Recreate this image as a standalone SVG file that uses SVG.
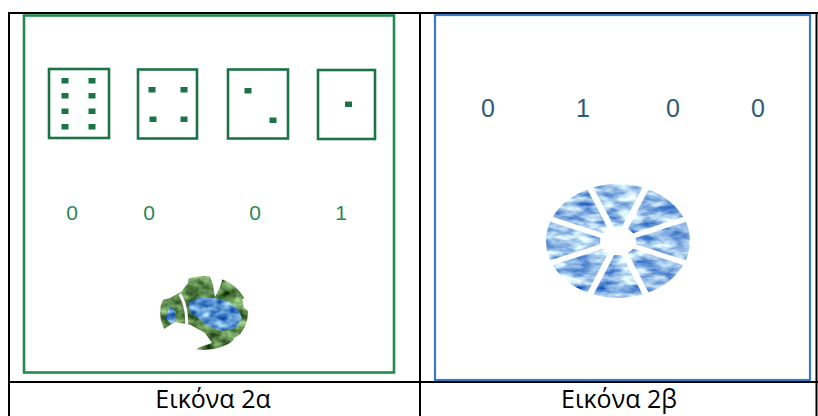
<svg xmlns="http://www.w3.org/2000/svg" width="818" height="416" viewBox="0 0 818 416">
  <style>
    .rule { stroke: #000; stroke-width: 2; fill: none; }
    .frame-a { fill: none; stroke: #238b4e; stroke-width: 2.6; }
    .frame-b { fill: #fff; stroke: #3b78c6; stroke-width: 2.2; }
    .die { fill: #fff; stroke: #1b7346; stroke-width: 2.6; }
    .pip { fill: #1b7346; }
    .digit-a { font-family: "Liberation Sans", Arial, sans-serif; font-size: 21px; fill: #2a8854; text-anchor: middle; }
    .digit-b { font-family: "Liberation Sans", Arial, sans-serif; font-size: 25px; fill: #2c5c74; text-anchor: middle; }
    .caption { font-family: "Open Sans", "Noto Sans", sans-serif; font-size: 25px; fill: #000; text-anchor: middle; }
  </style>
  <defs>
    <!-- marbled blue texture, clipped to the painted shape -->
    <filter id="texBlue" x="0" y="0" width="1" height="1" color-interpolation-filters="sRGB">
      <feTurbulence type="fractalNoise" baseFrequency="0.045 0.09" numOctaves="3" seed="7" result="n"/>
      <feColorMatrix in="n" type="matrix" values="1.5 0 0 0 -0.15  1.2 0 0 0 0.15  0.5 0 0 0 0.66  0 0 0 0 1" result="c"/>
      <feComposite in="c" in2="SourceGraphic" operator="in"/>
    </filter>
    <!-- mottled green texture for land -->
    <filter id="texGreen" x="0" y="0" width="1" height="1" color-interpolation-filters="sRGB">
      <feTurbulence type="fractalNoise" baseFrequency="0.07 0.1" numOctaves="3" seed="3" result="n"/>
      <feColorMatrix in="n" type="matrix" values="1.0 0 0 0 -0.12  1.1 0 0 0 0.0  0.9 0 0 0 -0.14  0 0 0 0 1" result="c"/>
      <feComposite in="c" in2="SourceGraphic" operator="in"/>
    </filter>
    <!-- water patches of the left globe -->
    <filter id="texWater" x="0" y="0" width="1" height="1" color-interpolation-filters="sRGB">
      <feTurbulence type="fractalNoise" baseFrequency="0.09 0.14" numOctaves="2" seed="11" result="n"/>
      <feColorMatrix in="n" type="matrix" values="1.3 0 0 0 -0.3  1.2 0 0 0 -0.02  0.7 0 0 0 0.47  0 0 0 0 1" result="c"/>
      <feComposite in="c" in2="SourceGraphic" operator="in"/>
    </filter>
  </defs>

  <rect width="818" height="416" fill="#fff"/>

  <!-- table rules -->
  <g id="table">
    <line class="rule" x1="8" y1="13" x2="818" y2="13"/>
    <line class="rule" x1="9" y1="12" x2="9" y2="416"/>
    <line class="rule" x1="420" y1="12" x2="420" y2="416"/>
    <line class="rule" x1="816.5" y1="12" x2="816.5" y2="416"/>
    <line class="rule" x1="8" y1="382" x2="818" y2="382"/>
  </g>

  <!-- left panel: dice, digits, torn globe -->
  <g id="panel-a">
    <rect class="frame-a" x="24" y="15.5" width="370" height="357"/>

    <g id="die-8">
      <rect class="die" x="49" y="69" width="60" height="69"/>
      <rect class="pip" x="61.5" y="78" width="7" height="5.5"/>
      <rect class="pip" x="88.5" y="78" width="7" height="5.5"/>
      <rect class="pip" x="61.5" y="93" width="7" height="5.5"/>
      <rect class="pip" x="88.5" y="93" width="7" height="5.5"/>
      <rect class="pip" x="61.5" y="108.5" width="7" height="5.5"/>
      <rect class="pip" x="88.5" y="108.5" width="7" height="5.5"/>
      <rect class="pip" x="61.5" y="124" width="7" height="5.5"/>
      <rect class="pip" x="88.5" y="124" width="7" height="5.5"/>
    </g>
    <g id="die-4">
      <rect class="die" x="138" y="69.5" width="59" height="69"/>
      <rect class="pip" x="148.5" y="87" width="7" height="5.5"/>
      <rect class="pip" x="180.5" y="87" width="7" height="5.5"/>
      <rect class="pip" x="149.5" y="116.5" width="7" height="5.5"/>
      <rect class="pip" x="180.5" y="116.5" width="7" height="5.5"/>
    </g>
    <g id="die-2">
      <rect class="die" x="228" y="69.5" width="60" height="69"/>
      <rect class="pip" x="244.5" y="88" width="7" height="5.5"/>
      <rect class="pip" x="269.5" y="117.5" width="7" height="5.5"/>
    </g>
    <g id="die-1">
      <rect class="die" x="318" y="70" width="57" height="69"/>
      <rect class="pip" x="345" y="101.5" width="7" height="5.5"/>
    </g>

    <g id="digits-a">
      <text class="digit-a" x="72" y="220">0</text>
      <text class="digit-a" x="149" y="220">0</text>
      <text class="digit-a" x="255" y="220">0</text>
      <text class="digit-a" x="341" y="220">1</text>
    </g>

    <g id="globe-a">
      <ellipse cx="204" cy="313" rx="44" ry="37" fill="#5a8a52" filter="url(#texGreen)"/>
      <path d="M188,303 L200,297 L215,298 L229,302 L238,309 L242,318 L236,328 L222,331 L208,326 L198,318 L190,312 Z" fill="#4f82cc" filter="url(#texWater)"/>
      <path d="M165,318 L170,306 L176,312 L174,326 Z" fill="#4f82cc" filter="url(#texWater)"/>
      <!-- tears in the sphere -->
      <polygon points="155,268 190,268 188,283 181,292 170,298 155,302" fill="#fff"/>
      <path d="M180,294 Q189,310 186,332" fill="none" stroke="#fff" stroke-width="3"/>
      <polygon points="158,333 175,322 191,325 205,333 212,343 200,347 192,352 158,352" fill="#fff"/>
      <polygon points="209,274 224,274 220,287 215,297 213,285" fill="#fff"/>
      <polygon points="242,299 252,296 250,312 244,308" fill="#fff"/>
      <polygon points="234,338 252,328 252,352 230,352" fill="#fff"/>
    </g>
  </g>

  <!-- right panel: digits and segmented globe -->
  <g id="panel-b">
    <rect class="frame-b" x="435" y="15" width="375" height="365"/>

    <g id="digits-b">
      <text class="digit-b" x="488" y="117">0</text>
      <text class="digit-b" x="583" y="117">1</text>
      <text class="digit-b" x="673" y="117">0</text>
      <text class="digit-b" x="758" y="117">0</text>
    </g>

    <g id="wheel-b" transform="translate(618,241) scale(1,0.79)">
      <circle r="72" fill="#7fa6dc" filter="url(#texBlue)"/>
      <g stroke="#fff" stroke-width="6.5">
        <line x1="0" y1="0" x2="76" y2="31.5"/>
        <line x1="0" y1="0" x2="31.5" y2="76"/>
        <line x1="0" y1="0" x2="-31.5" y2="76"/>
        <line x1="0" y1="0" x2="-76" y2="31.5"/>
        <line x1="0" y1="0" x2="-76" y2="-31.5"/>
        <line x1="0" y1="0" x2="-31.5" y2="-76"/>
        <line x1="0" y1="0" x2="31.5" y2="-76"/>
        <line x1="0" y1="0" x2="76" y2="-31.5"/>
      </g>
      <circle r="18" fill="#fff"/>
    </g>
  </g>

  <g id="captions">
    <text class="caption" x="213" y="408">Εικόνα 2α</text>
    <text class="caption" x="619" y="408">Εικόνα 2β</text>
  </g>
</svg>
